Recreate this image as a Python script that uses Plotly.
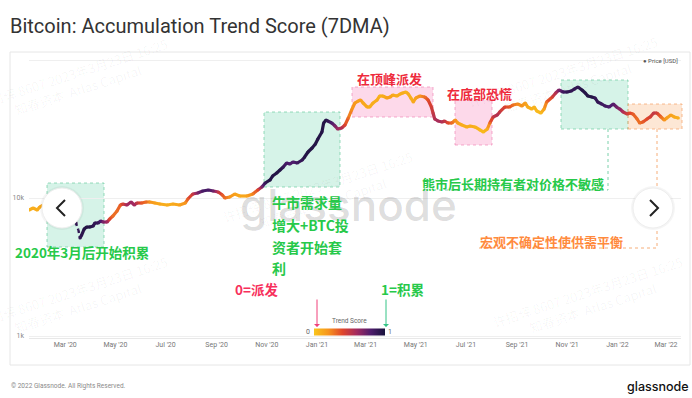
import plotly.graph_objects as go

# ---------------- data ----------------
dates = [
    "2020-01-17", "2020-01-22", "2020-01-27", "2020-01-30", "2020-02-11", "2020-02-23", "2020-03-07",
    "2020-03-14", "2020-03-17", "2020-03-19", "2020-03-21", "2020-03-24", "2020-03-27", "2020-03-31",
    "2020-04-04", "2020-04-06", "2020-04-10", "2020-04-13", "2020-04-16", "2020-04-21", "2020-04-24",
    "2020-04-28", "2020-05-03", "2020-05-07", "2020-05-10", "2020-05-15", "2020-05-20", "2020-05-24",
    "2020-05-27", "2020-06-02", "2020-06-07", "2020-06-12", "2020-06-18", "2020-06-24", "2020-07-03",
    "2020-07-10", "2020-07-18", "2020-07-25", "2020-07-28", "2020-08-03", "2020-08-09", "2020-08-15",
    "2020-08-22", "2020-08-28", "2020-09-03", "2020-09-08", "2020-09-11", "2020-09-17", "2020-09-23",
    "2020-09-29", "2020-10-08", "2020-10-15", "2020-10-21", "2020-10-26", "2020-10-30", "2020-11-05",
    "2020-11-08", "2020-11-13", "2020-11-17", "2020-11-21", "2020-11-25", "2020-11-29", "2020-12-03",
    "2020-12-08", "2020-12-14", "2020-12-17", "2020-12-21", "2020-12-26", "2020-12-30", "2021-01-02",
    "2021-01-07", "2021-01-09", "2021-01-12", "2021-01-14", "2021-01-19", "2021-01-23", "2021-01-26",
    "2021-01-31", "2021-02-04", "2021-02-08", "2021-02-12", "2021-02-16", "2021-02-20", "2021-02-23",
    "2021-02-26", "2021-03-03", "2021-03-06", "2021-03-10", "2021-03-15", "2021-03-18", "2021-03-22",
    "2021-03-27", "2021-03-31", "2021-04-03", "2021-04-08", "2021-04-12", "2021-04-15", "2021-04-19",
    "2021-04-22", "2021-04-25", "2021-04-28", "2021-05-01", "2021-05-06", "2021-05-12", "2021-05-16",
    "2021-05-20", "2021-05-22", "2021-05-24", "2021-05-28", "2021-06-02", "2021-06-05", "2021-06-09",
    "2021-06-14", "2021-06-18", "2021-06-21", "2021-06-26", "2021-07-02", "2021-07-06", "2021-07-12",
    "2021-07-18", "2021-07-22", "2021-07-27", "2021-07-30", "2021-08-03", "2021-08-08", "2021-08-11",
    "2021-08-17", "2021-08-23", "2021-08-27", "2021-09-02", "2021-09-07", "2021-09-11", "2021-09-14",
    "2021-09-19", "2021-09-22", "2021-09-25", "2021-09-30", "2021-10-04", "2021-10-07", "2021-10-14",
    "2021-10-18", "2021-10-22", "2021-10-27", "2021-11-01", "2021-11-06", "2021-11-10", "2021-11-14",
    "2021-11-19", "2021-11-23", "2021-11-26", "2021-12-01", "2021-12-05", "2021-12-08", "2021-12-13",
    "2021-12-17", "2021-12-22", "2021-12-27", "2021-12-31", "2022-01-04", "2022-01-08", "2022-01-13",
    "2022-01-16", "2022-01-20", "2022-01-25", "2022-01-28", "2022-02-01", "2022-02-06", "2022-02-10",
    "2022-02-14", "2022-02-18", "2022-02-23", "2022-02-27", "2022-03-02", "2022-03-07", "2022-03-11",
    "2022-03-16",
]
prices = [
    8185, 8462, 8185, 8606, 9512, 9672, 8750,
    6589, 5863, 5129, 5393, 5960, 6163, 6163,
    6267, 6589, 6589, 6813, 6700, 6700, 7044,
    7403, 8050, 8898, 9048, 8898, 9355, 8898,
    9199, 9199, 9355, 9355, 9199, 9048, 8898,
    9048, 8898, 9199, 9835, 10690, 10870, 11240,
    11430, 11240, 11054, 10514, 10000, 10168, 10690,
    10339, 10339, 10690, 11430, 12016, 12844, 13506,
    14435, 15176, 15956, 16777, 17932, 17635, 18236,
    17932, 18853, 19823, 21544, 23030, 24622, 26760,
    30083, 34954, 36753, 36141, 34954, 33253, 31623,
    32155, 33806, 37999, 43420, 48796, 50450, 51299,
    48796, 45634, 45634, 48796, 51299, 54838, 54838,
    53040, 53932, 55770, 54838, 56705, 57660, 58629,
    56705, 53040, 49625, 53040, 54838, 53932, 51299,
    45634, 41305, 37372, 36141, 35535, 36141, 34954,
    34954, 36753, 34954, 33806, 32700, 33253, 32700,
    31103, 30083, 31623, 34954, 38637, 39945, 42004,
    45634, 45634, 47195, 47995, 46416, 48796, 45634,
    44142, 45634, 42700, 41305, 44142, 49625, 53932,
    57660, 60618, 58629, 58629, 59614, 61660, 63727,
    60618, 57660, 54838, 53932, 53040, 49625, 47995,
    46416, 45634, 47995, 45634, 44142, 42004, 40611,
    41305, 40611, 37372, 34954, 35535, 37372, 38637,
    41305, 41305, 38637, 36753, 37999, 39945, 38637,
    37999,
]
trend_scores = [
    0.08, 0.10, 0.10, 0.12, 0.15, 0.15, 0.40,
    0.90, 0.90, 0.90, 0.92, 0.95, 0.95, 0.95,
    0.92, 0.90, 0.88, 0.80, 0.70, 0.60, 0.40,
    0.30, 0.30, 0.35, 0.45, 0.60, 0.62, 0.60,
    0.50, 0.35, 0.30, 0.20, 0.15, 0.12, 0.10,
    0.12, 0.15, 0.20, 0.35, 0.50, 0.70, 0.82,
    0.82, 0.72, 0.50, 0.35, 0.30, 0.20, 0.15,
    0.12, 0.15, 0.25, 0.40, 0.70, 0.88, 0.95,
    0.95, 0.95, 0.95, 0.88, 0.82, 0.80, 0.80,
    0.85, 0.90, 0.95, 0.95, 0.95, 0.95, 0.95,
    0.95, 0.95, 0.95, 0.90, 0.80, 0.70, 0.62,
    0.55, 0.42, 0.30, 0.22, 0.18, 0.15, 0.15,
    0.12, 0.12, 0.10, 0.10, 0.10, 0.08, 0.10,
    0.15, 0.15, 0.12, 0.10, 0.10, 0.10, 0.08,
    0.10, 0.10, 0.12, 0.15, 0.20, 0.30, 0.38,
    0.45, 0.50, 0.55, 0.58, 0.55, 0.50, 0.40,
    0.30, 0.20, 0.15, 0.10, 0.10, 0.10, 0.08,
    0.05, 0.05, 0.10, 0.30, 0.50, 0.55, 0.50,
    0.42, 0.35, 0.30, 0.22, 0.20, 0.15, 0.10,
    0.08, 0.08, 0.05, 0.05, 0.15, 0.30, 0.45,
    0.55, 0.70, 0.85, 0.90, 0.90, 0.90, 0.90,
    0.95, 0.95, 0.95, 0.95, 0.90, 0.90, 0.85,
    0.85, 0.80, 0.78, 0.72, 0.65, 0.55, 0.45,
    0.40, 0.35, 0.30, 0.30, 0.35, 0.40, 0.45,
    0.50, 0.45, 0.30, 0.20, 0.15, 0.15, 0.12,
    0.10,
]
# stretch of missing daily data, drawn dotted (March 2020 crash)
gap_start, gap_end = "2020-03-14", "2020-03-19"

y_ticks = [1000, 10000, 100000]
y_tick_text = ["1k", "10k", ""]

# ---------------- styling helpers ----------------
colorscale = [[0.0, "#f9c51b"], [0.2, "#f7951d"], [0.4, "#e0462b"],
              [0.6, "#a32a5f"], [0.8, "#4e1c6c"], [1.0, "#17123b"]]


def _hex(h):
    h = h.lstrip("#")
    return [int(h[i:i + 2], 16) for i in (0, 2, 4)]


def color_at(v):
    v = min(max(v, 0.0), 1.0)
    for (a, ca), (b, cb) in zip(colorscale[:-1], colorscale[1:]):
        if a <= v <= b:
            t = (v - a) / (b - a) if b > a else 0
            c1, c2 = _hex(ca), _hex(cb)
            rgb = [round(c1[k] + (c2[k] - c1[k]) * t) for k in range(3)]
            return "rgb(%d,%d,%d)" % tuple(rgb)
    return colorscale[-1][1]


W, H = 692, 398
ML, MR, MT, MB = 29, 11, 58, 60
PW, PH = W - ML - MR, H - MT - MB
LINE_W = 3.2


def px(x):
    return (x - ML) / PW


def py(y):
    return (H - MB - y) / PH


fig = go.Figure()

# coloured price line: segments grouped by colour level
groups = {}
for i in range(len(dates) - 1):
    dotted = gap_start <= dates[i] and dates[i + 1] <= gap_end
    lvl = round((trend_scores[i] + trend_scores[i + 1]) / 2 * 40) / 40
    gx, gy = groups.setdefault((lvl, dotted), ([], []))
    gx += [dates[i], dates[i + 1], None]
    gy += [prices[i], prices[i + 1], None]

for (lvl, dotted), (gx, gy) in sorted(groups.items()):
    fig.add_trace(go.Scatter(
        x=gx, y=gy, mode="lines", hoverinfo="skip", showlegend=False,
        line=dict(color=color_at(lvl), width=2.4 if dotted else LINE_W,
                  dash="dot" if dotted else "solid"),
    ))

# joint markers + colour bar
mx, my, mc = [], [], []
for d, p, s in zip(dates, prices, trend_scores):
    if gap_start < d < gap_end:
        continue
    mx.append(d)
    my.append(p)
    mc.append(s)
fig.add_trace(go.Scatter(
    x=mx, y=my, mode="markers", showlegend=False, hoverinfo="skip",
    marker=dict(size=LINE_W, color=mc, cmin=0, cmax=1, colorscale=colorscale,
                line=dict(width=0), showscale=True,
                colorbar=dict(orientation="h", x=px(349.5), y=py(331.5), xanchor="center",
                              yanchor="middle", len=71, lenmode="pixels", thickness=7,
                              thicknessmode="pixels", outlinewidth=0, showticklabels=False,
                              ticks="", xpad=0, ypad=0)),
))

shapes = []


def rect(x0, y0, x1, y1, fill, line, dash="dot", layer="below", width=1):
    shapes.append(dict(type="rect", xref="paper", yref="paper", x0=px(x0), x1=px(x1),
                       y0=py(y1), y1=py(y0), fillcolor=fill,
                       line=dict(color=line, width=width, dash=dash), layer=layer))


def seg(x0, y0, x1, y1, color):
    shapes.append(dict(type="line", xref="paper", yref="paper", x0=px(x0), x1=px(x1),
                       y0=py(y0), y1=py(y1), line=dict(color=color, width=1, dash="dot"),
                       layer="below"))


# card frame
rect(10, 52, 690, 365, "rgba(0,0,0,0)", "#e6e6e6", dash="solid")

GREEN_FILL, GREEN_LINE = "rgba(130,218,185,0.33)", "rgba(100,200,155,0.65)"
PINK_FILL, PINK_LINE = "rgba(250,165,205,0.42)", "rgba(240,130,180,0.65)"
ORANGE_FILL, ORANGE_LINE = "rgba(250,195,150,0.40)", "rgba(245,160,100,0.7)"

rect(47, 183, 104, 247, GREEN_FILL, GREEN_LINE)
rect(264, 112, 340, 187, GREEN_FILL, GREEN_LINE)
rect(352, 87, 433, 117, PINK_FILL, PINK_LINE)
rect(455, 100, 492, 145, PINK_FILL, PINK_LINE)
rect(561, 80, 628, 129, GREEN_FILL, GREEN_LINE)
rect(628, 104, 682, 129, ORANGE_FILL, ORANGE_LINE)

seg(608, 129, 608, 190, "rgba(100,200,155,0.85)")
seg(433, 190, 608, 190, "rgba(100,200,155,0.85)")
seg(657, 129, 657, 248, "rgba(245,160,100,0.85)")
seg(479, 248, 657, 248, "rgba(245,160,100,0.85)")

# carousel buttons
for cx, chev in ((62, "M 3,8 L -5,0 L 3,-8"), (653, "M -3,8 L 5,0 L -3,-8")):
    shapes.append(dict(type="circle", xref="paper", yref="paper", xsizemode="pixel",
                       ysizemode="pixel", xanchor=px(cx), yanchor=py(208), x0=-22, x1=22,
                       y0=-22, y1=22, fillcolor="rgba(0,0,0,0.04)", line=dict(width=0),
                       layer="above"))
    shapes.append(dict(type="circle", xref="paper", yref="paper", xsizemode="pixel",
                       ysizemode="pixel", xanchor=px(cx), yanchor=py(208), x0=-20, x1=20,
                       y0=-20, y1=20, fillcolor="white", line=dict(color="#eeeeee", width=1),
                       layer="above"))
    shapes.append(dict(type="path", xref="paper", yref="paper", xsizemode="pixel",
                       ysizemode="pixel", xanchor=px(cx), yanchor=py(208), path=chev,
                       line=dict(color="#222222", width=2), layer="above"))

annotations = []


def text(x, y, s, size, color, anchor="left", weight="normal", family="Noto Sans CJK SC",
         angle=0):
    annotations.append(dict(xref="paper", yref="paper", x=px(x), y=py(y), text=s,
                            showarrow=False, xanchor=anchor, yanchor="middle",
                            textangle=angle,
                            font=dict(size=size, color=color, family=family, weight=weight)))


# faint watermarks
WM = "许招辉 8607 2023年3月23日 16:25<br>知春资本/Atlas Capital"
for wx, wy in ((75, 82), (565, 80), (320, 195), (75, 300), (590, 300)):
    text(wx, wy, WM, 13, "rgba(0,0,0,0.04)", anchor="center", angle=-18)
text(348, 205, "glassnode", 44, "rgba(0,0,0,0.14)", anchor="center", family="Inter",
     weight=500)

GREEN, RED, PINKRED, ORANGE = "#27c94a", "#ee2a3c", "#f7305c", "#ff8a3d"
text(13, 252, "2020年3月后开始积累", 13.5, GREEN, weight="bold")
for i, line in enumerate(["牛市需求量", "增大+BTC投", "资者开始套", "利"]):
    text(270, [202, 225, 247, 268][i], line, 14, GREEN, weight="bold")
text(233, 289, "0=派发", 13.5, PINKRED, weight="bold")
text(379, 289, "1=积累", 13.5, GREEN, weight="bold")
text(355, 78, "在顶峰派发", 13, RED, weight="bold")
text(445, 93, "在底部恐慌", 13, RED, weight="bold")
text(420, 183, "熊市后长期持有者对价格不敏感", 13, GREEN, weight="bold")
text(478, 241, "宏观不确定性使供需平衡", 13, ORANGE, weight="bold")

# colour bar title, end labels, arrows
text(349.5, 321, "Trend Score", 6.5, "#666", anchor="center", family="Roboto")
text(308, 332, "0", 7, "#666", anchor="center", family="Roboto")
text(390, 332, "1", 7, "#666", anchor="center", family="Roboto")
for ax_x, col in ((317, "#f0407a"), (386, "#34c486")):
    annotations.append(dict(xref="paper", yref="paper", x=px(ax_x), y=py(327), ax=0,
                            ay=-29, axref="pixel", ayref="pixel", text="", showarrow=True,
                            arrowhead=1, arrowsize=1, arrowwidth=1, arrowcolor=col))

# title, legend, footer
text(8, 26, "Bitcoin: Accumulation Trend Score (7DMA)", 20, "#333333", family="Roboto")
text(680, 61, "● Price [USD]", 6, "#555555", anchor="right", family="Roboto")
text(9, 386, "© 2022 Glassnode. All Rights Reserved.", 6.5, "#8a8a8a", family="Roboto")
text(691, 386, "glassnode", 12.5, "#111111", anchor="right", family="Inter", weight=500)

fig.update_layout(
    width=W, height=H, margin=dict(l=ML, r=MR, t=MT, b=MB),
    paper_bgcolor="white", plot_bgcolor="white",
    font=dict(family="Roboto"),
    shapes=shapes, annotations=annotations, showlegend=False,
    xaxis=dict(type="date", range=["2020-01-17", "2022-03-19 07:00"], tickformat="%b '%y",
               dtick="M2", tick0="2020-03-01", showgrid=False, showline=True,
               linecolor="#e8e8e8", linewidth=1, ticks="", zeroline=False,
               tickfont=dict(size=7, color="#777777")),
    yaxis=dict(type="log", range=[2.9855, 5.0145], tickvals=y_ticks, ticktext=y_tick_text,
               showgrid=True, gridcolor="#efefef", gridwidth=1, zeroline=False,
               showline=False, ticks="", ticklabelstandoff=4,
               tickfont=dict(size=7, color="#888888")),
)

fig.write_html("out.html", config={"displayModeBar": False},
               post_script="document.body.style.margin='0';document.body.style.overflow='hidden';")
